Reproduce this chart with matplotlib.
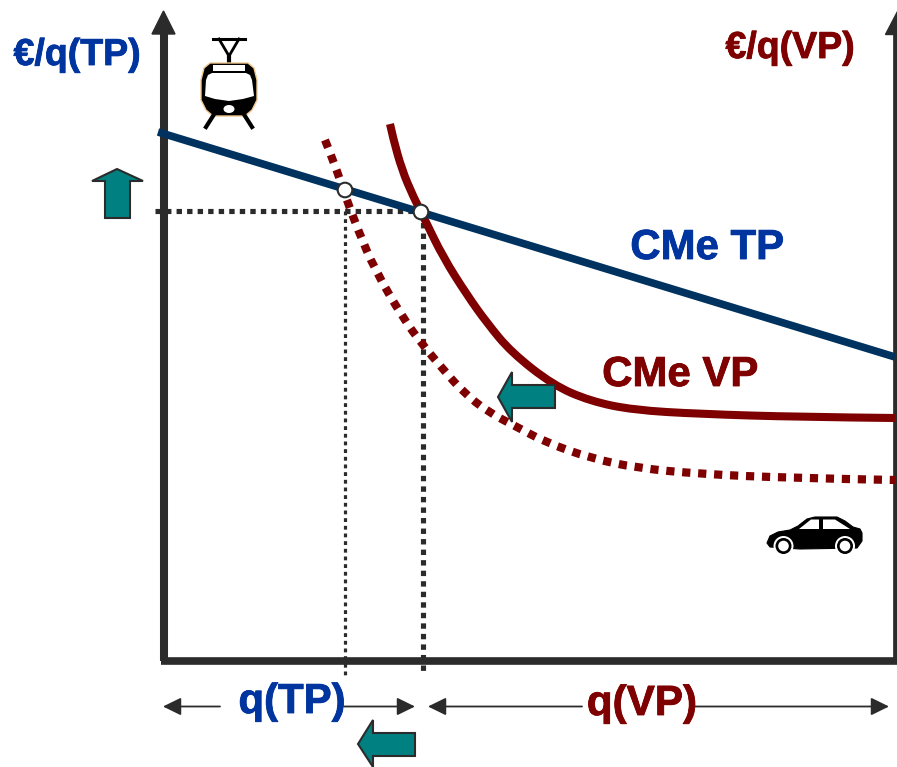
## CMe TP / CMe VP diagram, drawn in picture coordinates
import matplotlib
matplotlib.use('Agg')
import matplotlib.pyplot as plt
import matplotlib.patheffects as pe
from matplotlib.path import Path
from matplotlib.patches import Polygon, Circle, Ellipse, Rectangle, PathPatch

plt.rcParams['font.family'] = ['Liberation Sans', 'DejaVu Sans']

## data
tp_x = [158, 895]
tp_y = [132, 357]
vp_x = [390, 393, 402, 413, 425, 443, 467, 487, 511, 553, 590, 633, 700, 800, 895]
vp_y = [124, 138, 170, 196, 220, 257, 295, 323, 352, 385, 401, 410, 414, 417, 418]
vp2_x = [325, 335, 345, 358, 375, 403, 422, 442, 463, 488, 517, 545, 590, 637, 700, 790, 895]
vp2_y = [140, 165, 195, 230, 270, 318, 344, 368, 392, 412, 427, 442, 458, 468, 474, 478, 480]
eq_x = [345, 421]
eq_y = [190, 212]
price_y = 211

AXIS = '#2b2b2b'
BLUE = '#00349e'
NAVY = '#00325f'
RED = '#7f0000'
TEAL = '#008080'

fig = plt.figure(figsize=(8.97, 7.67), dpi=100)
ax = fig.add_axes([0, 0, 1, 1])
ax.set_xlim(0, 897)
ax.set_ylim(767, 0)
ax.axis('off')

def smooth(xs, ys, **kw):
    ## quadratic pieces through the midpoints, so the curve has no corners
    pts = list(zip(xs, ys))
    verts = [pts[0]]
    codes = [Path.MOVETO]
    for i in range(1, len(pts) - 1):
        end = pts[i + 1] if i == len(pts) - 2 else ((pts[i][0] + pts[i + 1][0]) / 2, (pts[i][1] + pts[i + 1][1]) / 2)
        verts += [pts[i], end]
        codes += [Path.CURVE3, Path.CURVE3]
    ax.add_patch(PathPatch(Path(verts, codes), fill=False, capstyle='butt', **kw))

## axes
ax.plot([163.5, 163.5], [30, 661], color=AXIS, lw=5.8, solid_capstyle='butt', zorder=2)
ax.add_patch(Polygon([[152, 34], [175, 34], [163.5, 11]], color=AXIS, zorder=2))
ax.plot([161, 897], [660.5, 660.5], color=AXIS, lw=5.5, solid_capstyle='butt', zorder=2)
ax.plot([895, 895], [30, 661], color=AXIS, lw=3.4, solid_capstyle='butt', zorder=2)
ax.add_patch(Polygon([[885, 34], [897, 34], [897, 11]], color=AXIS, zorder=2))

## dotted guide lines
ax.plot([155, eq_x[1]], [price_y, price_y], color=AXIS, lw=3.7, dashes=(1.05, 1.0), zorder=3)
ax.plot([eq_x[0], eq_x[0]], [price_y, 676], color=AXIS, lw=2.3, dashes=(1.2, 1.2), zorder=3)
ax.plot([422.5, 422.5], [212, 674], color=AXIS, lw=3.7, dashes=(1.05, 1.0), zorder=3)

## curves
smooth(vp2_x, vp2_y, ec=RED, lw=5.9, linestyle=(0, (1.0, 0.95)), zorder=4)
smooth(vp_x, vp_y, ec=RED, lw=5.8, zorder=4)
ax.plot(tp_x, tp_y, color=NAVY, lw=5.5, solid_capstyle='butt', zorder=5)
for cx, cy in zip(eq_x, eq_y):
    ax.add_patch(Circle((cx, cy), 7.3, fc='white', ec=AXIS, lw=1.5, zorder=6))

## teal block arrows
def block(pts):
    ax.add_patch(Polygon(pts, fc=TEAL, ec=AXIS, lw=1.5, zorder=7))

block([[117, 169], [143, 181], [130, 181], [130, 218], [105, 218], [105, 181], [92, 181]])
block([[498, 397], [512, 372], [512, 385], [555, 385], [555, 408], [512, 408], [512, 422]])
block([[358, 744], [373, 720], [373, 733], [415, 733], [415, 756], [373, 756], [373, 767]])

## q range arrows
def span(x0, x1, gap0, gap1):
    for a, b in ((x0, gap0), (x1, gap1)):
        ax.annotate('', xy=(a, 706.5), xytext=(b, 706.5), zorder=3,
                    arrowprops=dict(arrowstyle='-|>,head_length=1.1,head_width=0.54', lw=1.3,
                                    color=AXIS, shrinkA=0, shrinkB=0))

span(163, 415, 220, 344)
span(428, 889, 582, 695)

## text
heavy = [pe.withStroke(linewidth=0.6, foreground=BLUE)]
heavy_red = [pe.withStroke(linewidth=0.6, foreground=RED)]
def label(x, y, s, color, size):
    ax.text(x, y, s, color=color, fontsize=size, fontweight='bold', ha='center', va='center',
            path_effects=heavy if color == BLUE else heavy_red)

label(77, 55, '€/q(TP)', BLUE, 27)
label(790, 48, '€/q(VP)', RED, 27)
label(707, 248, 'CMe TP', BLUE, 30.2)
label(680, 375, 'CMe VP', RED, 30.2)
label(292, 702, 'q(TP)', BLUE, 30.2)
label(642, 704, 'q(VP)', RED, 30.4)

## tram icon
ax.plot([213, 245], [39, 39], color='black', lw=2.2, zorder=3)
ax.plot([219, 229, 239], [39, 56, 39], color='black', lw=2.0, zorder=3)
ax.plot([229, 229], [56, 65], color='black', lw=3, zorder=3)
ax.add_patch(Polygon([[210, 63], [248, 63], [254, 68], [257, 80], [257, 100], [252, 110], [245, 116],
                      [213, 116], [206, 110], [201, 100], [201, 80], [204, 68]],
                     fc='black', ec='#f0c890', lw=1.0, joinstyle='round', zorder=3))
ax.add_patch(Rectangle((213, 65), 32, 6, fc='white', ec='none', zorder=4))
ax.add_patch(Polygon([[206, 80], [208, 75], [212, 73], [246, 73], [250, 75], [252, 80], [254, 96],
                      [243, 99], [229, 101], [215, 99], [205, 96]],
                     fc='white', ec='none', zorder=4))
ax.add_patch(Ellipse((229, 109), 11, 8, fc='white', ec='none', zorder=4))
ax.plot([213, 206], [116, 127], color='black', lw=3, zorder=3)
ax.plot([245, 252], [116, 127], color='black', lw=3, zorder=3)

## car icon
ax.add_patch(Polygon([[767, 543], [770, 536], [778, 532], [790, 530], [798, 526], [807, 519], [815, 517],
                      [837, 517], [845, 521], [853, 527], [860, 529], [862, 533], [862, 541], [857, 548],
                      [800, 549], [770, 547]],
                     fc='black', ec='black', lw=0.8, joinstyle='round', zorder=3))
ax.add_patch(Polygon([[799, 529], [811, 519.5], [819, 519.5], [819, 529]], fc='white', ec='none', zorder=4))
ax.add_patch(Polygon([[823, 519.5], [835, 519.5], [850, 529], [823, 529]], fc='white', ec='none', zorder=4))
for cx in (783.5, 845):
    ax.add_patch(Circle((cx, 546), 10, fc='white', ec='none', zorder=4))
    ax.add_patch(Circle((cx, 546), 8, fc='black', ec='none', zorder=5))
    ax.add_patch(Circle((cx, 546), 5.3, fc='white', ec='none', zorder=6))

fig.savefig('out.png', dpi=100)
